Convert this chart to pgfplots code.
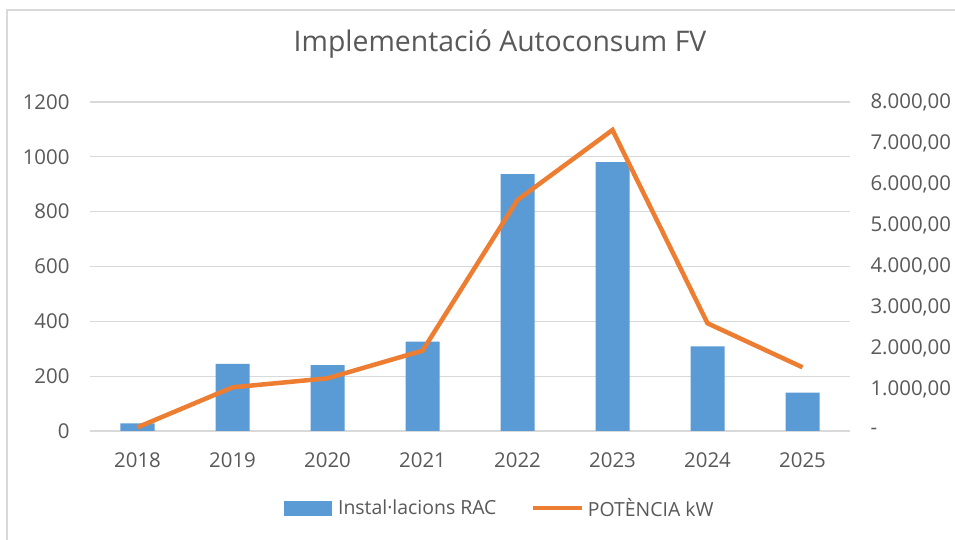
\documentclass[border=0pt]{standalone}
\usepackage{fontspec}
\setmainfont{Open Sans}
\usepackage{pgfplots}
\pgfplotsset{compat=1.18}
\definecolor{barblue}{HTML}{5B9BD5}
\definecolor{lineorange}{HTML}{ED7D31}
\definecolor{gridgray}{HTML}{D9D9D9}
\definecolor{textgray}{HTML}{595959}
\begin{document}
\begin{tikzpicture}
\useasboundingbox (0,0) rectangle (955bp,540bp);
\fill[white] (0,0) rectangle (955bp,540bp);
\draw[gridgray, line width=1.5bp] (7bp,0) -- (7bp,530bp) -- (955bp,530bp);
\begin{axis}[
  at={(90bp,109bp)}, anchor=south west,
  scale only axis, width=760bp, height=329bp,
  ybar, bar width=34bp,
  xmin=-0.5, xmax=7.5, ymin=0, ymax=1200,
  xtick={0,...,7}, xticklabels={2018,2019,2020,2021,2022,2023,2024,2025},
  ytick={0,200,...,1200}, yticklabels={0,200,400,600,800,1000,1200},
  axis line style={draw=none},
  major tick length=0pt,
  ymajorgrids, grid style={gridgray, line width=1.3bp},
  tick label style={font=\fontsize{20.5}{24}\selectfont, text=textgray},
  yticklabel style={xshift=-17bp},
  xticklabel style={yshift=-18bp},
]
\addplot[fill=barblue, draw=none] coordinates {(0,28) (1,245) (2,240) (3,326) (4,937) (5,981) (6,309) (7,140)};
\end{axis}
\begin{axis}[
  at={(90bp,109bp)}, anchor=south west,
  scale only axis, width=760bp, height=329bp,
  xmin=-0.5, xmax=7.5, ymin=0, ymax=8000,
  axis y line*=right, axis x line=none,
  ytick={0,1000,...,8000},
  yticklabels={{-},{1.000,00},{2.000,00},{3.000,00},{4.000,00},{5.000,00},{6.000,00},{7.000,00},{8.000,00}},
  axis line style={draw=none},
  major tick length=0pt,
  tick label style={font=\fontsize{20.5}{24}\selectfont, text=textgray},
  yticklabel style={xshift=17bp},
  legend columns=2,
  legend style={at={(0.539,-0.234)}, anchor=center, draw=none, fill=none,
    font=\fontsize{19.5}{23}\selectfont, text=textgray,
    /tikz/every even column/.append style={column sep=32bp}},
]
\addlegendimage{legend image code/.code={\fill[barblue] (0bp,-7bp) rectangle (47bp,7bp); \path (52bp,0bp);}}
\addlegendentry{Instal·lacions RAC}
\addlegendimage{legend image code/.code={\draw[lineorange, line width=4.5bp] (0bp,0bp) -- (49bp,0bp); \path (53bp,0bp);}}
\addlegendentry{POTÈNCIA kW}
\addplot[lineorange, line width=4.5bp, forget plot] coordinates {(0,90) (1,1062) (2,1281) (3,1953) (4,5618) (5,7320) (6,2619) (7,1549)};
\end{axis}
\node[font=\fontsize{28.5}{34}\selectfont, text=textgray] at (500bp,496bp) {Implementació Autoconsum FV};
\end{tikzpicture}
\end{document}
